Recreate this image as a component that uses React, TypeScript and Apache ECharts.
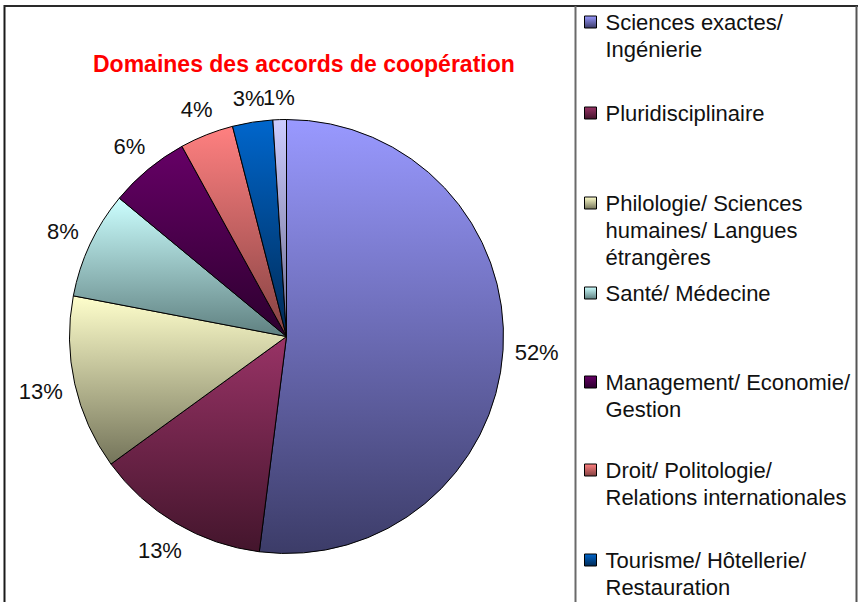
import React, { useEffect, useRef } from "react";
import * as echarts from "echarts";

const categories = [
  "Sciences exactes/ Ingénierie",
  "Pluridisciplinaire",
  "Philologie/ Sciences humaines/ Langues étrangères",
  "Santé/ Médecine",
  "Management/ Economie/ Gestion",
  "Droit/ Politologie/ Relations internationales",
  "Tourisme/ Hôtellerie/ Restauration",
  "Autres",
];
const values = [52, 13, 13, 8, 6, 4, 3, 1];
const legendLines = [
  ["Sciences exactes/", "Ingénierie"],
  ["Pluridisciplinaire"],
  ["Philologie/ Sciences", "humaines/ Langues", "étrangères"],
  ["Santé/ Médecine"],
  ["Management/ Economie/", "Gestion"],
  ["Droit/ Politologie/", "Relations internationales"],
  ["Tourisme/ Hôtellerie/", "Restauration"],
];
const legendCenters = [22, 113, 203, 293, 382, 470, 560];
const topColors = ["#9999FF", "#993366", "#FFFFCC", "#CCFFFF", "#660066", "#FF8080", "#0066CC", "#CCCCFF"];
const bottomColors = ["#3C3C68", "#43152C", "#74745A", "#5F8080", "#2C002E", "#844242", "#002A55", "#6A6A8C"];

const FONT = "'Liberation Sans', Arial, sans-serif";
const CX = 286.5;
const CY = 336.5;
const R = 217;
const LABEL_GAP = 11;
const LH = 27;

export default function App() {
  const ref = useRef<HTMLDivElement>(null);
  useEffect(() => {
    if (!ref.current) return;
    const chart = echarts.init(ref.current, undefined, { renderer: "svg" });
    const grad = (i: number) =>
      new echarts.graphic.LinearGradient(0, 0, 0, 1, [
        { offset: 0, color: topColors[i] },
        { offset: 1, color: bottomColors[i] },
      ]);
    chart.setOption({
      animation: false,
      backgroundColor: "#ffffff",
      title: {
        text: "Domaines des accords de coopération",
        left: 93,
        top: 52,
        padding: 0,
        textStyle: { color: "#FF0000", fontSize: 23, fontWeight: "bold", fontFamily: FONT },
      },
      legend: legendLines.map((lines, i) => {
        const n = lines.length;
        return {
          data: [categories[i]],
          orient: "vertical",
          left: 584,
          top: legendCenters[i] - ((2 * n - 1) * LH) / 2,
          padding: 0,
          itemWidth: 12,
          itemHeight: 12,
          icon: "rect",
          selectedMode: false,
          formatter: () => [...new Array(n - 1).fill(""), ...lines].join("\n"),
          itemStyle: { borderColor: "#000", borderWidth: 1 },
          textStyle: { fontSize: 22, lineHeight: LH, color: "#111", fontFamily: FONT, padding: [0, 0, 0, 4] },
        };
      }),
      graphic: [
        { type: "line", shape: { x1: 4.5, y1: 5, x2: 4.5, y2: 602 }, style: { stroke: "#1a1a1a", lineWidth: 2 } },
        { type: "line", shape: { x1: 4, y1: 6, x2: 858, y2: 6 }, style: { stroke: "#2a2a2a", lineWidth: 2 } },
        { type: "line", shape: { x1: 856.5, y1: 6, x2: 856.5, y2: 602 }, style: { stroke: "#555", lineWidth: 2 } },
        { type: "line", shape: { x1: 575.5, y1: 6, x2: 575.5, y2: 602 }, style: { stroke: "#6a6a6a", lineWidth: 2 } },
      ],
      series: [
        {
          type: "pie",
          center: [CX, CY],
          radius: R,
          startAngle: 90,
          clockwise: true,
          avoidLabelOverlap: false,
          data: values.map((v, i) => ({
            name: categories[i],
            value: v,
            itemStyle: { color: grad(i) },
          })),
          itemStyle: { borderColor: "#000", borderWidth: 1 },
          label: {
            show: true,
            position: "outside",
            formatter: "{c}%",
            fontSize: 22,
            color: "#111",
            fontFamily: FONT,
            distanceToLabelLine: 0,
          },
          labelLine: { show: false, length: 0, length2: 0 },
          labelLayout: (params: any) => {
            const rect = params.labelRect;
            let ax = rect.x + rect.width / 2;
            if (params.align === "right") ax = rect.x + rect.width;
            else if (params.align === "left") ax = rect.x;
            const ay = rect.y + rect.height / 2;
            const dx = ax - CX;
            const dy = ay - CY;
            const len = Math.hypot(dx, dy) || 1;
            const ux = dx / len;
            const uy = dy / len;
            const ext = Math.abs(ux) * rect.width / 2 + Math.abs(uy) * rect.height / 2;
            const dist = R + LABEL_GAP + ext;
            return {
              x: CX + ux * dist,
              y: CY + uy * dist,
              align: "center",
              verticalAlign: "middle",
            };
          },
          emphasis: { disabled: true },
        },
      ],
    });
    return () => chart.dispose();
  }, []);
  return (
    <div
      ref={ref}
      style={{ position: "fixed", left: 0, top: 0, width: 859, height: 602, background: "#fff" }}
    />
  );
}
